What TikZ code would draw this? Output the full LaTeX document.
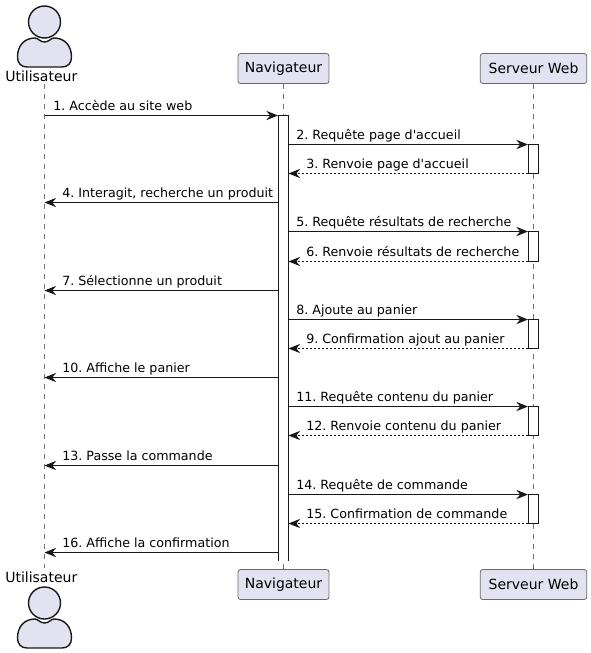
\documentclass[tikz,border=0pt]{standalone}
\usepackage{fontspec}
\setmainfont{DejaVu Sans}[Ligatures=TeXOff]
\usetikzlibrary{arrows.meta,positioning}
\definecolor{ink}{HTML}{181818}
\definecolor{lilac}{HTML}{E2E2F0}
\newcommand{\msgfont}{\fontsize{9.5pt}{11pt}\selectfont\frenchspacing}
\newcommand{\partfont}{\fontsize{10.5pt}{12pt}\selectfont}
\newcommand{\actorfig}[2]{%
  \draw[actorline] (17.5,#2-10) .. controls (17.5,#2-22) and (25,#2-29) .. (35,#2-29)
     .. controls (38,#2-29) and (40,#2-25) .. (44.5,#2-25)
     .. controls (49,#2-25) and (51,#2-29) .. (54,#2-29)
     .. controls (64,#2-29) and (71.5,#2-22) .. (71.5,#2-10)
     .. controls (71.5,#2-4) and (68,#2) .. (62,#2)
     -- (27,#2) .. controls (21,#2) and (17.5,#2-4) .. (17.5,#2-10) -- cycle;
  \draw[actorline] (44.5,#1+16) circle[radius=16*0.75pt];}
\tikzset{
  x=0.75pt,y=-0.75pt,
  partbox/.style={draw=ink!65,line width=0.6pt,fill=lilac,rounded corners=1.9pt,minimum height=22.5pt,inner sep=0pt,font=\partfont},
  actorlabel/.style={anchor=base west,inner sep=0pt,font=\partfont,text=black},
  actorline/.style={draw=ink,fill=lilac,line width=1.05pt},
  lifeline/.style={draw=ink!60,line width=0.45pt,dash pattern=on 3.75pt off 3.75pt},
  bar/.style={fill=white,minimum width=7.5pt,inner sep=0pt,outer sep=0pt,anchor=north},
  barline/.style={draw=ink,line width=0.75pt},
  call/.style={draw=ink,line width=0.75pt,-{Stealth[length=8.8pt,width=7pt,inset=3pt,color=ink]}},
  reply/.style={call,dash pattern=on 1.5pt off 1.5pt},
  msg/.style={anchor=base west,inner sep=0pt,font=\msgfont,text=black},
}
\begin{document}
\begin{tikzpicture}
\useasboundingbox[fill=white] (0,0) rectangle (591,653);
% participants
\node[actorlabel] (utilT) at (5,81) {Utilisateur};
\node[actorlabel] (utilB) at (5,582) {Utilisateur};
\coordinate (utilTa) at (44.5,84);
\coordinate (utilBa) at (44.5,568);
\node[partbox,minimum width=68.2pt] (navT) at (283.5,68.5) {Navigateur};
\node[partbox,minimum width=79.8pt] (srvT) at (533.5,68.5) {Serveur Web};
\node[partbox,minimum width=68.2pt] (navB) at (283.5,584.5) {Navigateur};
\node[partbox,minimum width=79.8pt] (srvB) at (533.5,584.5) {Serveur Web};
\actorfig{6}{67}
\actorfig{587}{648}
% lifelines
\draw[lifeline] (utilTa) -- (utilBa);
\draw[lifeline] (navT.south) -- (navB.north);
\draw[lifeline] (srvT.south) -- (srvB.north);
% activation bars
\node[bar,minimum height=334pt] (navbar) at (283.5,115.5) {};
\draw[barline] (navbar.south west) -- (navbar.north west) -- (navbar.north east) -- (navbar.south east);
\foreach \b/\ya/\yb in {a/144.5/173.5,b/231.5/261.5,c/319.5/348.5,d/406.5/435.5,e/494.5/523.5}{
  \pgfmathsetmacro{\hh}{(\yb-\ya)*0.75}
  \node[bar,barline,minimum height=\hh pt] (srv\b) at (533.5,\ya) {};
}
% anchors of the messages
\foreach \n/\y in {1/115.5,2/144.5,3/173.5,4/202.5,5/231.5,6/261.5,7/290.5,8/319.5,9/348.5,10/377.5,11/406.5,12/435.5,13/465.5,14/494.5,15/523.5,16/552.5}{
  \coordinate (U\n) at (44.5,\y);
  \coordinate (NL\n) at (278,\y);
  \coordinate (NR\n) at (288.5,\y);
  \coordinate (S\n) at (528,\y);
}
% messages
\draw[call] (U1) -- (NL1);
\node[msg] at (53,110) {1. Accède au site web};
\draw[call] (NR2) -- (S2);
\node[msg] at (296,139) {2. Requête page d'accueil};
\draw[reply] (S3) -- (NR3);
\node[msg] at (306,168) {3. Renvoie page d'accueil};
\draw[call] (NL4) -- (U4);
\node[msg] at (62,197) {4. Interagit, recherche un produit};
\draw[call] (NR5) -- (S5);
\node[msg] at (296,226) {5. Requête résultats de recherche};
\draw[reply] (S6) -- (NR6);
\node[msg] at (306,256) {6. Renvoie résultats de recherche};
\draw[call] (NL7) -- (U7);
\node[msg] at (62,285) {7. Sélectionne un produit};
\draw[call] (NR8) -- (S8);
\node[msg] at (296,314) {8. Ajoute au panier};
\draw[reply] (S9) -- (NR9);
\node[msg] at (306,343) {9. Confirmation ajout au panier};
\draw[call] (NL10) -- (U10);
\node[msg] at (62,372) {10. Affiche le panier};
\draw[call] (NR11) -- (S11);
\node[msg] at (296,401) {11. Requête contenu du panier};
\draw[reply] (S12) -- (NR12);
\node[msg] at (306,430) {12. Renvoie contenu du panier};
\draw[call] (NL13) -- (U13);
\node[msg] at (62,460) {13. Passe la commande};
\draw[call] (NR14) -- (S14);
\node[msg] at (296,489) {14. Requête de commande};
\draw[reply] (S15) -- (NR15);
\node[msg] at (306,518) {15. Confirmation de commande};
\draw[call] (NL16) -- (U16);
\node[msg] at (62,547) {16. Affiche la confirmation};
\end{tikzpicture}
\end{document}
